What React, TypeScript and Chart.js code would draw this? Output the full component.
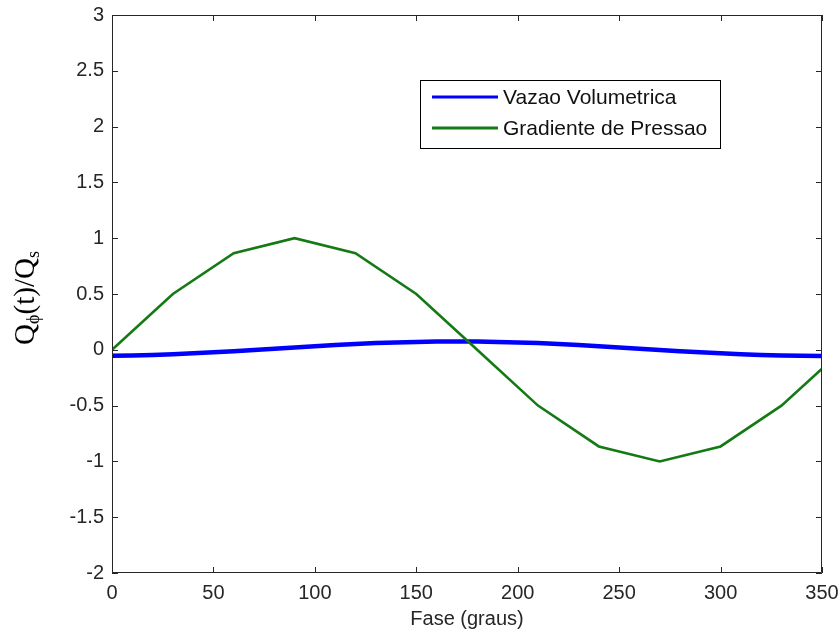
import React, { useEffect, useRef } from "react";
import { Chart, registerables } from "chart.js";

Chart.register(...registerables);

// Phase (degrees) for the flow-rate curve
const phaseVazao: number[] = [
  0, 10, 20, 30, 40, 50, 60, 70, 80, 90, 100, 110, 120, 130, 140, 150, 160, 170,
  180, 190, 200, 210, 220, 230, 240, 250, 260, 270, 280, 290, 300, 310, 320, 330, 340, 350,
];
const vazaoVolumetrica: number[] = [
  -0.054, -0.051, -0.046, -0.04, -0.032, -0.023, -0.012, -0.001, 0.01, 0.021, 0.032, 0.043,
  0.052, 0.06, 0.066, 0.071, 0.074, 0.075, 0.074, 0.071, 0.066, 0.06, 0.052, 0.043,
  0.032, 0.021, 0.01, -0.001, -0.012, -0.023, -0.032, -0.04, -0.046, -0.051, -0.054, -0.055,
];

// Phase (degrees) for the pressure-gradient curve
const phaseGradiente: number[] = [0, 30, 60, 90, 120, 150, 180, 210, 240, 270, 300, 330, 350];
const gradientePressao: number[] = [0, 0.5, 0.866, 1, 0.866, 0.5, 0, -0.5, -0.866, -1, -0.866, -0.5, -0.17];

const seriesLabels: string[] = ["Vazao Volumetrica", "Gradiente de Pressao"];
const seriesColors: string[] = ["#0000ff", "#147a14"];

const xTicks: number[] = [0, 50, 100, 150, 200, 250, 300, 350];
const yTicks: number[] = [-2, -1.5, -1, -0.5, 0, 0.5, 1, 1.5, 2, 2.5, 3];

const xTitle = "Fase (graus)";

const SANS = "'Liberation Sans', Arial, Helvetica, sans-serif";
const SERIF = "'Liberation Serif', 'Times New Roman', serif";

const framePlugin = {
  id: "framePlugin",
  afterDatasetsDraw(chart: any) {
    const { ctx, chartArea } = chart;
    const { left, right, top, bottom } = chartArea;
    const xs = chart.scales.x;
    const ys = chart.scales.y;
    ctx.save();
    ctx.strokeStyle = "#262626";
    ctx.lineWidth = 1;
    ctx.beginPath();
    ctx.rect(left + 0.5, top + 0.5, right - left - 1, bottom - top - 1);
    ctx.stroke();
    const len = 6;
    ctx.beginPath();
    xTicks.forEach((v) => {
      const px = Math.round(xs.getPixelForValue(v)) + 0.5;
      ctx.moveTo(px, bottom);
      ctx.lineTo(px, bottom - len);
      ctx.moveTo(px, top);
      ctx.lineTo(px, top + len);
    });
    yTicks.forEach((v) => {
      const py = Math.round(ys.getPixelForValue(v)) + 0.5;
      ctx.moveTo(left, py);
      ctx.lineTo(left + len, py);
      ctx.moveTo(right, py);
      ctx.lineTo(right - len, py);
    });
    ctx.stroke();
    ctx.restore();
  },
  afterDraw(chart: any) {
    const { ctx } = chart;
    // Y axis title with subscripts
    ctx.save();
    ctx.fillStyle = "#000";
    ctx.translate(34, 298);
    ctx.rotate(-Math.PI / 2);
    ctx.textBaseline = "alphabetic";
    ctx.textAlign = "left";
    const big = `29px ${SERIF}`;
    const small = `18px ${SERIF}`;
    const parts: [string, string, number][] = [
      ["Q", big, 0],
      ["\u03d5", small, 5],
      ["(t)/Q", big, 0],
      ["s", small, 5],
    ];
    let total = 0;
    parts.forEach(([t, f]) => {
      ctx.font = f;
      total += ctx.measureText(t).width;
    });
    let x = -total / 2;
    parts.forEach(([t, f, dy]) => {
      ctx.font = f;
      ctx.fillText(t, x, dy);
      x += ctx.measureText(t).width;
    });
    ctx.restore();

    // Legend box
    const bx = 420, by = 80, bw = 301, bh = 69;
    ctx.save();
    ctx.fillStyle = "#ffffff";
    ctx.fillRect(bx, by, bw, bh);
    ctx.strokeStyle = "#000";
    ctx.lineWidth = 1;
    ctx.strokeRect(bx + 0.5, by + 0.5, bw - 1, bh - 1);
    const rows = [97, 128];
    chart.data.datasets.forEach((ds: any, i: number) => {
      const yy = rows[i];
      ctx.strokeStyle = ds.borderColor;
      ctx.lineWidth = 3;
      ctx.beginPath();
      ctx.moveTo(432, yy);
      ctx.lineTo(498, yy);
      ctx.stroke();
      ctx.fillStyle = "#111";
      ctx.font = `21px ${SANS}`;
      ctx.textBaseline = "middle";
      ctx.textAlign = "left";
      ctx.fillText(ds.label, 503, yy + 1);
    });
    ctx.restore();
  },
};

export default function App() {
  const ref = useRef<HTMLCanvasElement | null>(null);

  useEffect(() => {
    if (!ref.current) return;
    const chart = new Chart(ref.current, {
      type: "line",
      data: {
        datasets: [
          {
            label: seriesLabels[0],
            data: phaseVazao.map((x, i) => ({ x, y: vazaoVolumetrica[i] })),
            borderColor: seriesColors[0],
            backgroundColor: seriesColors[0],
            borderWidth: 4.5,
            pointRadius: 0,
            tension: 0,
            order: 1,
          },
          {
            label: seriesLabels[1],
            data: phaseGradiente.map((x, i) => ({ x, y: gradientePressao[i] })),
            borderColor: seriesColors[1],
            backgroundColor: seriesColors[1],
            borderWidth: 2.6,
            pointRadius: 0,
            tension: 0,
            order: 0,
          },
        ],
      },
      options: {
        responsive: false,
        animation: false,
        devicePixelRatio: 1,
        layout: { padding: { top: 15, right: 18, left: 0, bottom: 0 } },
        plugins: {
          legend: { display: false },
          tooltip: { enabled: false },
        },
        scales: {
          x: {
            type: "linear",
            min: 0,
            max: 350,
            afterFit: (s: any) => {
              s.height = 61;
              s.paddingLeft = 0;
              s.paddingRight = 0;
              s.paddingTop = 0;
              s.paddingBottom = 0;
            },
            afterBuildTicks: (s: any) => {
              s.ticks = xTicks.map((v) => ({ value: v }));
            },
            grid: { display: false, drawTicks: false },
            border: { display: false },
            ticks: {
              color: "#262626",
              font: { family: SANS, size: 20 },
              padding: 8,
              maxRotation: 0,
              autoSkip: false,
            },
            title: {
              display: true,
              text: xTitle,
              color: "#262626",
              font: { family: SANS, size: 20 },
              padding: { top: 0, bottom: 3 },
            },
          },
          y: {
            type: "linear",
            min: -2,
            max: 3,
            afterFit: (s: any) => {
              s.width = 112;
              s.paddingLeft = 0;
              s.paddingRight = 0;
              s.paddingTop = 0;
              s.paddingBottom = 0;
            },
            afterBuildTicks: (s: any) => {
              s.ticks = yTicks.map((v) => ({ value: v }));
            },
            grid: { display: false, drawTicks: false },
            border: { display: false },
            ticks: {
              color: "#262626",
              font: { family: SANS, size: 20 },
              padding: 8,
              autoSkip: false,
              callback: (v: any) => String(v),
            },
          },
        },
      },
      plugins: [framePlugin],
    });
    return () => chart.destroy();
  }, []);

  return (
    <div style={{ position: "fixed", left: 0, top: 0, width: 840, height: 634, background: "#fff" }}>
      <canvas ref={ref} width={840} height={634} />
    </div>
  );
}
